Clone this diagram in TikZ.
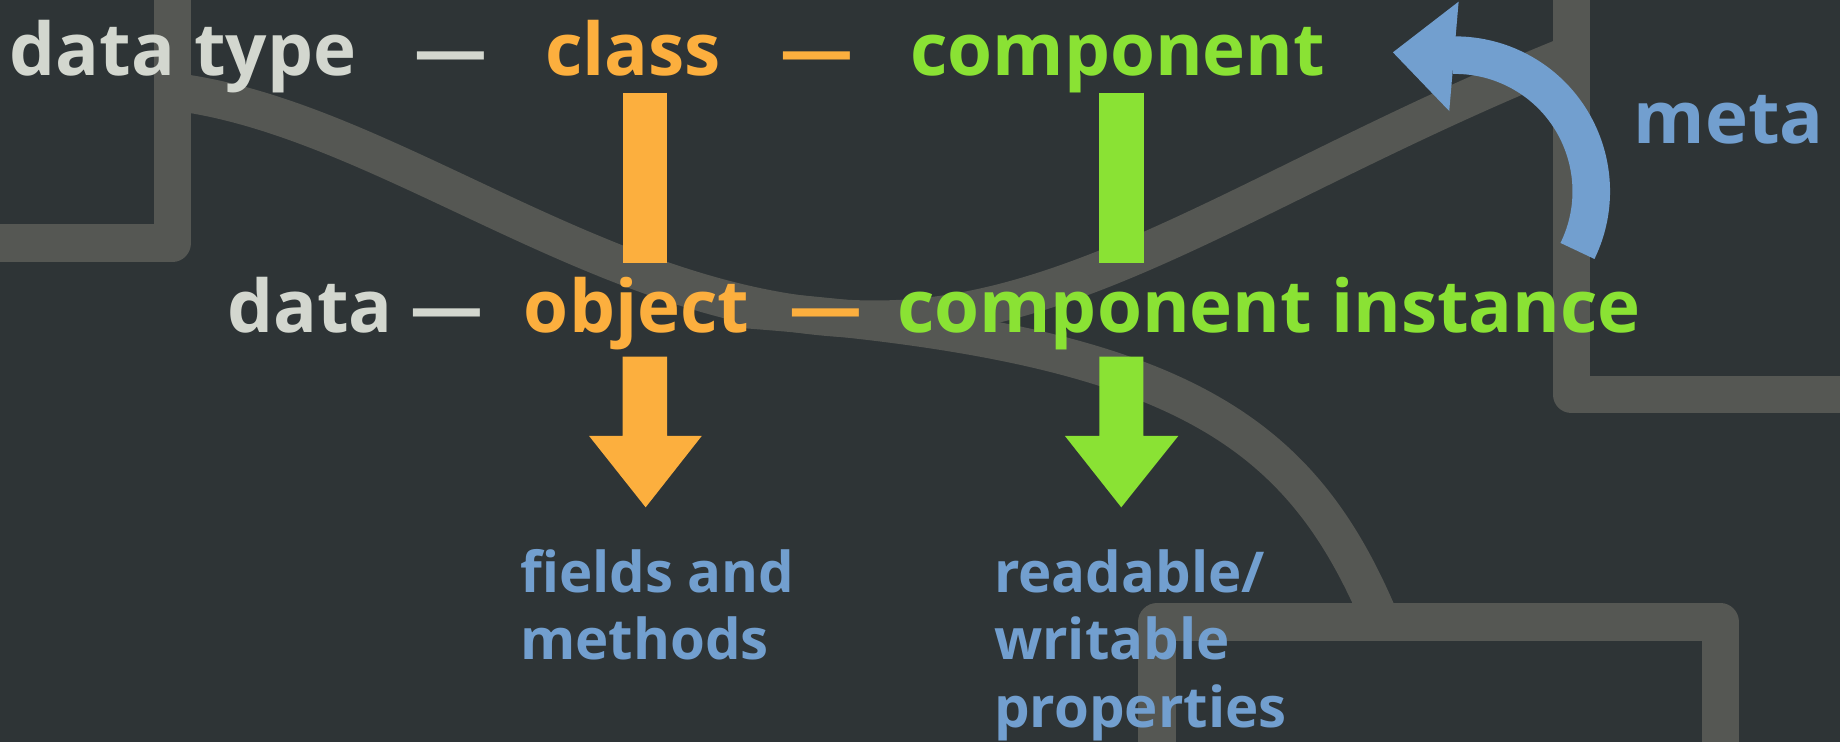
\documentclass[tikz,border=0pt]{standalone}
\usepackage{fontspec}
\setmainfont{Open Sans}
\usetikzlibrary{calc}
\definecolor{bg}{HTML}{2E3436}
\definecolor{rail}{HTML}{555753}
\definecolor{txtw}{HTML}{D3D7CF}
\definecolor{txto}{HTML}{FCAF3E}
\definecolor{txtg}{HTML}{8AE234}
\definecolor{txtb}{HTML}{729FCF}
\begin{document}
\begin{tikzpicture}[x=1pt,y=-1pt,
  big/.style={font=\fontsize{62}{74}\selectfont\bfseries, inner sep=0pt, anchor=base},
  small/.style={font=\fontsize{48}{57.5}\selectfont\bfseries, inner sep=0pt, align=left, anchor=base west, text=txtb},
  railline/.style={draw=rail, line width=32pt, line join=round},
  bar/.style={line width=38pt},
]
\useasboundingbox (0,0) rectangle (1568,632);
\fill[bg] (0,0) rectangle (1568,632);

% background rails
\coordinate (sStart) at (147,78);
\coordinate (sMid) at (740,272);
\coordinate (sEnd) at (1339,46);
\coordinate (bStart) at (625,263);
\coordinate (bEnd) at (1177,530);
\draw[railline] (-30,207) -- (147,207) -- (147,-30);
\draw[railline] (1339,-30) -- (1339,336) -- (1620,336);
\draw[railline] (986,680) -- (986,530) -- (1466,530) -- (1466,680);
\draw[railline] (sStart) .. controls (330,100) and (520,270) .. (sMid)
                        .. controls (920,275) and (1080,150) .. (sEnd);
\draw[railline] (bStart) .. controls (1000,290) and (1107,362) .. (bEnd);

% texts
\node[big, text=txtw] (datatype) at (156,64) {data type};
\node[big, text=txtw] (dashA) at (384,64) {—};
\node[big, text=txto] (class) at (539.5,64) {class};
\node[big, text=txto] (dashB) at (696,64) {—};
\node[big, text=txtg] (component) at (952.5,64) {component};
\node[big, text=txtw] (data) at (264,283) {data};
\node[big, text=txtw] (dashC) at (381,283) {—};
\node[big, text=txto] (object) at (542.5,283) {object};
\node[big, text=txto] (dashD) at (704,283) {—};
\node[big, text=txtg] (instance) at (1081.5,283) {component instance};
\node[big, text=txtb] (meta) at (1473,122) {meta};
\node[small] (fields) at (443,562.4) {fields and\\methods};
\node[small] (props) at (847,619.6) {readable/\\writable\\properties};

% class -> object, component -> component instance
\coordinate (oTop) at (549.6,79);
\coordinate (oBot) at (549.6,223.8);
\coordinate (gTop) at (955.5,79);
\coordinate (gBot) at (955.5,223.8);
\draw[bar, txto] (oTop) -- (oBot);
\draw[bar, txtg] (gTop) -- (gBot);

% down arrows
\fill[txto] (530.6,304) -- (568.6,304) -- (568.6,371.5) -- (598,371.5) -- (550.2,432.3) -- (502,371.5) -- (530.6,371.5) -- cycle;
\fill[txtg] (936.8,304) -- (974.3,304) -- (974.3,371.5) -- (1004.1,371.5) -- (955.5,432.3) -- (907.5,371.5) -- (936.8,371.5) -- cycle;

% meta arrow
\coordinate (mc) at (1240,163);
\draw[txtb, line width=32pt] ($(mc)+(26:116)$) arc[start angle=26, end angle=-91, radius=116];
\fill[txtb] (1243,1.4) -- (1187,44.6) -- (1235,94.6) -- cycle;
\end{tikzpicture}
\end{document}
